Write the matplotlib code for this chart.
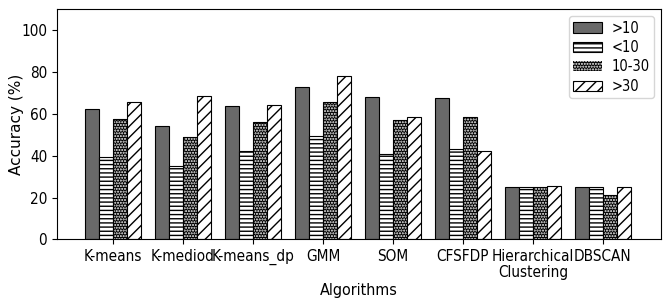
import numpy as np
import matplotlib
matplotlib.use("Agg")
import matplotlib.pyplot as plt

# Data
algorithms = ["K-means", "K-mediod", "K-means_dp", "GMM", "SOM",
              "CFSFDP", "Hierarchical\nClustering", "DBSCAN"]
series_labels = [">10", "<10", "10-30", ">30"]
acc_gt10 = [62.5, 54, 63.5, 73, 67.8, 67.3, 25, 25]
acc_lt10 = [39.4, 35, 42, 49.3, 40.9, 43.4, 25, 25]
acc_10_30 = [57.5, 49, 56.2, 65.8, 56.8, 58.5, 25, 21]
acc_gt30 = [65.4, 68.6, 64.4, 77.8, 58.5, 42.1, 25.6, 25]

plt.rcParams['font.family'] = ['DejaVu Sans']
plt.rcParams['hatch.linewidth'] = 1.0

fig = plt.figure(figsize=(6.7, 3.05), dpi=100)
ax = fig.add_axes([0.085, 0.215, 0.9016, 0.7555])

x = np.arange(len(algorithms))
w = 0.2
all_vals = [acc_gt10, acc_lt10, acc_10_30, acc_gt30]
handles = []
for i, (vals, lab) in enumerate(zip(all_vals, series_labels)):
    pos = x + (i - 1.5) * w
    if i == 0:
        h = ax.bar(pos, vals, w, color="dimgray", edgecolor="black",
                   linewidth=0.8, label=lab)
    elif i == 1:
        h = ax.bar(pos, vals, w, color="white", hatch="----",
                   edgecolor="black", linewidth=0.8, label=lab)
    elif i == 2:
        # white dots on black: hatch colour follows the edge colour
        h = ax.bar(pos, vals, w, color="black", hatch="......",
                   edgecolor="white", linewidth=0, label=lab)
        ax.bar(pos, vals, w, fill=False, edgecolor="black", linewidth=0.8)
    else:
        h = ax.bar(pos, vals, w, color="white", hatch="///",
                   edgecolor="black", linewidth=0.8, label=lab)
    handles.append(h)

ax.set_xticks(x)
ax.set_xticklabels(algorithms, fontsize=11, stretch="condensed", linespacing=1.05)
ax.set_yticks(range(0, 101, 20))
for t in ax.get_yticklabels():
    t.set_fontsize(11)
    t.set_stretch("condensed")
ax.set_ylim(0, 110)
ax.set_xlim(-0.8, 7.83)
ax.set_ylabel("Accuracy (%)", fontsize=11)
ax.yaxis.set_label_coords(-0.055, 0.5)
ax.set_xlabel("Algorithms", fontsize=11.5, stretch="condensed", labelpad=2)
ax.legend(handles, series_labels, loc="upper right",
          prop=dict(size=10.5, stretch="condensed"),
          labelspacing=0.3, borderpad=0.3, handletextpad=0.6,
          handlelength=2.0)

fig.savefig("out.png", dpi=100)
